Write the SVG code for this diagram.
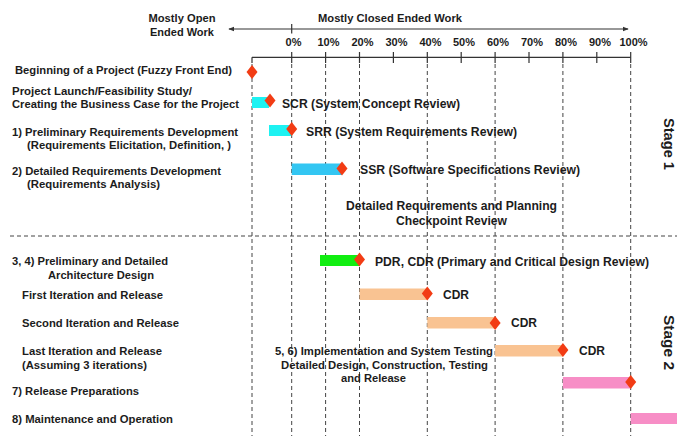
<svg xmlns="http://www.w3.org/2000/svg" xmlns:xlink="http://www.w3.org/1999/xlink" width="677" height="436" viewBox="0 0 677 436">
  <style>
    text { font-family: "Liberation Sans", Arial, sans-serif; font-weight: bold; font-size: 11.5px; fill: #1c1c1c; }
    .mid { text-anchor: middle; }
    .lbl { font-size: 12px; }
    .pct { font-size: 11px; }
    .stage { font-size: 14.5px; text-anchor: middle; }
    .axis { stroke: #333; stroke-width: 1.2; fill: none; }
    .grid { stroke: #444; stroke-width: 1; stroke-dasharray: 4 3; fill: none; }
    .ms { fill: #f23c14; }
    .cyan { fill: #1ef2f2; }
    .sky { fill: #33c6f2; }
    .green { fill: #11ee11; }
    .peach { fill: #f9c392; }
    .pink { fill: #f78ec6; }
  </style>
  <defs>
    <path id="diamond" d="M0,-7 L5.5,0 L0,7 L-5.5,0 Z"/>
    <marker id="tip" viewBox="0 0 8 8" refX="7" refY="4" markerWidth="6" markerHeight="6" orient="auto-start-reverse" markerUnits="userSpaceOnUse">
      <path d="M0,1 L8,4 L0,7 Z" fill="#333"/>
    </marker>
  </defs>

  <!-- header -->
  <g id="header">
    <text class="mid pct" x="182" y="21.5" textLength="67" lengthAdjust="spacingAndGlyphs">Mostly Open</text>
    <text class="mid pct" x="182" y="35.5" textLength="64" lengthAdjust="spacingAndGlyphs">Ended Work</text>
    <text class="pct" x="318" y="21.5" textLength="144" lengthAdjust="spacingAndGlyphs">Mostly Closed Ended Work</text>
    <text class="mid pct" x="293.5" y="45.5">0%</text>
    <text class="mid pct" x="328.5" y="45.5">10%</text>
    <text class="mid pct" x="362.5" y="45.5">20%</text>
    <text class="mid pct" x="396.5" y="45.5">30%</text>
    <text class="mid pct" x="430.5" y="45.5">40%</text>
    <text class="mid pct" x="464" y="45.5">50%</text>
    <text class="mid pct" x="498" y="45.5">60%</text>
    <text class="mid pct" x="532" y="45.5">70%</text>
    <text class="mid pct" x="566" y="45.5">80%</text>
    <text class="mid pct" x="600" y="45.5">90%</text>
    <text class="mid pct" x="633.5" y="45.5">100%</text>
  </g>

  <!-- axes, grid and stage divider -->
  <g id="connectors">
    <line class="axis" x1="229" y1="29" x2="628" y2="29" marker-start="url(#tip)" marker-end="url(#tip)"/>
    <line class="axis" x1="291.7" y1="24" x2="291.7" y2="33.5"/>
    <line class="axis" x1="252" y1="57.3" x2="630.7" y2="57.3"/>
    <path class="axis" d="M252,57.3 V63 M291.7,52 V63 M325.6,52 V63 M359.5,52 V63 M393.4,52 V63 M427.3,52 V63 M461.2,52 V63 M495.1,52 V63 M529,52 V63 M562.9,52 V63 M596.8,52 V63 M630.7,52 V63"/>
    <path class="grid" d="M252,64 V436 M291.7,64 V436 M325.6,64 V436 M359.5,64 V436 M427.3,64 V436 M495.1,64 V436 M562.9,64 V436 M630.7,64 V436"/>
    <line class="grid" x1="10" y1="236" x2="677" y2="236" stroke-dasharray="5 3"/>
  </g>

  <g id="fuzzy-front-end">
    <text x="15" y="74" textLength="217" lengthAdjust="spacingAndGlyphs">Beginning of a Project (Fuzzy Front End)</text>
    <use xlink:href="#diamond" class="ms" x="252" y="72"/>
  </g>

  <g id="project-launch">
    <text x="12" y="95" textLength="180" lengthAdjust="spacingAndGlyphs">Project Launch/Feasibility Study/</text>
    <text x="12" y="108" textLength="227" lengthAdjust="spacingAndGlyphs">Creating the Business Case for the Project</text>
    <rect class="cyan" x="252" y="97" width="17" height="11"/>
    <use xlink:href="#diamond" class="ms" x="270" y="100.5"/>
    <text class="lbl" x="282" y="107.5" textLength="178" lengthAdjust="spacingAndGlyphs">SCR (System Concept Review)</text>
  </g>

  <g id="prelim-requirements">
    <text x="12" y="135.5" textLength="226" lengthAdjust="spacingAndGlyphs">1) Preliminary Requirements Development</text>
    <text x="27" y="149" textLength="204" lengthAdjust="spacingAndGlyphs">(Requirements Elicitation, Definition, )</text>
    <rect class="cyan" x="269" y="125" width="22.7" height="11"/>
    <use xlink:href="#diamond" class="ms" x="291.7" y="129"/>
    <text class="lbl" x="306" y="136" textLength="211" lengthAdjust="spacingAndGlyphs">SRR (System Requirements Review)</text>
  </g>

  <g id="detailed-requirements">
    <text x="12" y="175" textLength="209" lengthAdjust="spacingAndGlyphs">2) Detailed Requirements Development</text>
    <text x="27" y="187.5" textLength="133" lengthAdjust="spacingAndGlyphs">(Requirements Analysis)</text>
    <rect class="sky" x="291.7" y="163.5" width="50.3" height="11.5"/>
    <use xlink:href="#diamond" class="ms" x="342" y="168.5"/>
    <text class="lbl" x="360" y="174" textLength="220" lengthAdjust="spacingAndGlyphs">SSR (Software Specifications Review)</text>
  </g>

  <g id="checkpoint-review">
    <text class="mid lbl" x="451.5" y="210" textLength="211" lengthAdjust="spacingAndGlyphs">Detailed Requirements and Planning</text>
    <text class="mid lbl" x="451.5" y="225" textLength="111" lengthAdjust="spacingAndGlyphs">Checkpoint Review</text>
  </g>

  <g id="architecture-design">
    <text x="12" y="265" textLength="156" lengthAdjust="spacingAndGlyphs">3, 4) Preliminary and Detailed</text>
    <text x="48" y="278.5" textLength="106" lengthAdjust="spacingAndGlyphs">Architecture Design</text>
    <rect class="green" x="320" y="255" width="39.5" height="11"/>
    <use xlink:href="#diamond" class="ms" x="359.5" y="259.5"/>
    <text class="lbl" x="375" y="265.5" textLength="274" lengthAdjust="spacingAndGlyphs">PDR, CDR (Primary and Critical Design Review)</text>
  </g>

  <g id="first-iteration">
    <text x="22" y="299" textLength="141" lengthAdjust="spacingAndGlyphs">First Iteration and Release</text>
    <rect class="peach" x="359.5" y="288.5" width="67.8" height="11.5"/>
    <use xlink:href="#diamond" class="ms" x="427.3" y="293.5"/>
    <text class="lbl" x="443" y="299" textLength="26" lengthAdjust="spacingAndGlyphs">CDR</text>
  </g>

  <g id="second-iteration">
    <text x="22" y="326.5" textLength="157" lengthAdjust="spacingAndGlyphs">Second Iteration and Release</text>
    <rect class="peach" x="427.3" y="317" width="67.8" height="11.5"/>
    <use xlink:href="#diamond" class="ms" x="495.1" y="323"/>
    <text class="lbl" x="511" y="327" textLength="26" lengthAdjust="spacingAndGlyphs">CDR</text>
  </g>

  <g id="last-iteration">
    <text x="22" y="355" textLength="140" lengthAdjust="spacingAndGlyphs">Last Iteration and Release</text>
    <text x="22" y="369" textLength="125" lengthAdjust="spacingAndGlyphs">(Assuming 3 iterations)</text>
    <rect class="peach" x="495.1" y="345" width="67.8" height="11.5"/>
    <use xlink:href="#diamond" class="ms" x="562.9" y="350"/>
    <text class="lbl" x="579" y="355" textLength="26" lengthAdjust="spacingAndGlyphs">CDR</text>
  </g>

  <g id="implementation-testing">
    <text x="275" y="355" textLength="218" lengthAdjust="spacingAndGlyphs">5, 6) Implementation and System Testing</text>
    <text x="281" y="369" textLength="207" lengthAdjust="spacingAndGlyphs">Detailed Design, Construction, Testing</text>
    <text x="341" y="382" textLength="65" lengthAdjust="spacingAndGlyphs">and Release</text>
  </g>

  <g id="release-preparations">
    <text x="12" y="395" textLength="127" lengthAdjust="spacingAndGlyphs">7) Release Preparations</text>
    <rect class="pink" x="562.9" y="377" width="67.8" height="11.5"/>
    <use xlink:href="#diamond" class="ms" x="630.7" y="382"/>
  </g>

  <g id="maintenance">
    <text x="12" y="423" textLength="161" lengthAdjust="spacingAndGlyphs">8) Maintenance and Operation</text>
    <rect class="pink" x="630.7" y="413" width="46.3" height="11"/>
  </g>

  <g id="stage-1">
    <text class="stage" transform="translate(664,144) rotate(90)" textLength="52" lengthAdjust="spacingAndGlyphs">Stage 1</text>
  </g>
  <g id="stage-2">
    <text class="stage" transform="translate(664,342.5) rotate(90)" textLength="55" lengthAdjust="spacingAndGlyphs">Stage 2</text>
  </g>
</svg>
